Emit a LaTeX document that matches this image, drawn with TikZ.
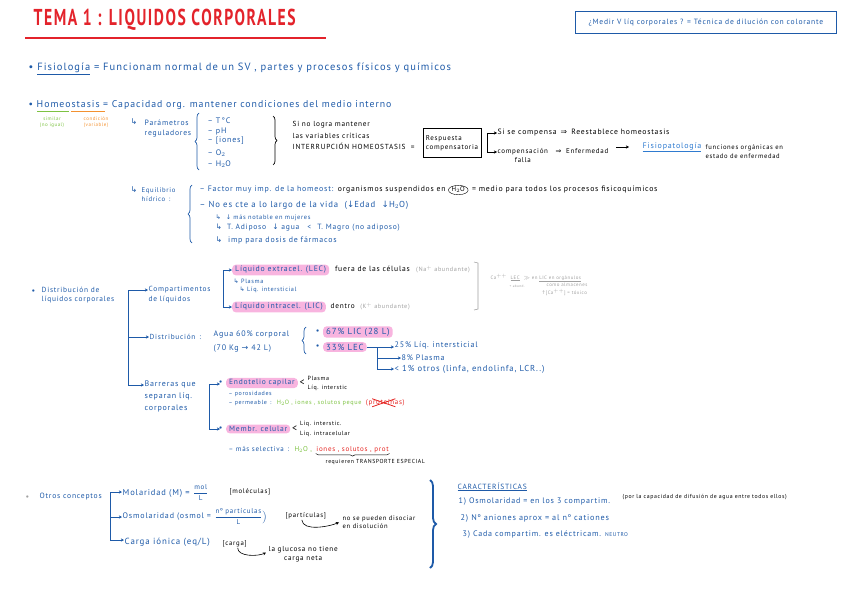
\documentclass[tikz,border=0pt]{standalone}
\usepackage{amsmath}
\usepackage{fontspec}
\setmainfont{PT Sans}[LetterSpace=10]
\newfontfamily\symf{DejaVu Sans}
\usetikzlibrary{arrows.meta, positioning, decorations.pathreplacing, shapes.geometric}
\definecolor{ink}{HTML}{1E5AA8}
\definecolor{inklight}{HTML}{2F7BD0}
\definecolor{titlered}{HTML}{E3232B}
\definecolor{redink}{HTML}{E52421}
\definecolor{pinkhl}{HTML}{F8B4DF}
\definecolor{grn}{HTML}{7DC242}
\definecolor{orng}{HTML}{F39130}
\definecolor{gry}{HTML}{A0A0A0}

\begin{document}
\begin{tikzpicture}[
x=1pt, y=-1pt,
txt/.style={anchor=west, inner sep=0.5pt, text=ink},
blk/.style={txt, text=black},
gtxt/.style={txt, text=gry},
fs/.style 2 args={font=\fontsize{#1}{#2}\selectfont},
hl/.style={fill=pinkhl, rounded corners=3.5pt, inner xsep=3pt, inner ysep=1.6pt},
arr/.style={-{Stealth[length=3.2pt, width=3.2pt]}, ink, line width=0.8pt},
arrk/.style={arr, black, line width=0.6pt},
line/.style={ink, line width=0.8pt},
lbrace/.style={decorate, decoration={brace, amplitude=4pt}, line width=0.7pt}
]
\useasboundingbox (0,0) rectangle (848,599);

% titulo
\node[txt, text=titlered, font=\fontsize{23}{23}\bfseries\selectfont] (title) at (33,20) {\scalebox{0.68}[1]{TEMA 1 : LIQUIDOS CORPORALES}};
\coordinate (ulA) at (25,38);
\coordinate (ulB) at (326,38);
\draw[titlered, line width=2.6pt] (ulA) -- (ulB);

\node[draw=ink, line width=0.8pt, text=ink, fs={7.6}{9}, minimum width=261pt, minimum height=22pt, anchor=north west] (medir) at (575,11) {¿Medir V líq corporales ? = Técnica de dilución con colorante};

% fisiologia / homeostasis
\node[txt, fs={10.5}{12}] (fisio) at (28,69) {• \underline{Fisiología} = Funcionam normal de un SV , partes y procesos físicos y químicos};
\node[txt, fs={9.8}{12}] (homeo) at (28,105) {• Homeostasis = Capacidad org. mantener condiciones del medio interno};
\draw[grn, line width=0.9pt] (37,111) -- (69,111);
\draw[orng, line width=0.9pt] (71,111) -- (105,111);
\node[txt, text=grn, fs={5}{6}, align=center, anchor=center] (similar) at (52,122) {similar\\(no igual)};
\node[txt, text=orng, fs={5}{6}, align=center, anchor=center] (condic) at (96,122) {condición\\(variable)};

\node[txt, fs={8}{10}] (hk1) at (130,122) {\symf ↳};
\node[txt, fs={7.7}{10}, align=left, anchor=north west] (param) at (144,119) {Parámetros\\reguladores};
\draw[ink, lbrace] (199,170) -- (199,113);
\foreach \t/\yy [count=\i] in {T\,°C/121, pH/131, {[}iones{]}/141, O$_2$/153, H$_2$O/164}
  \node[txt, fs={8}{10}] (reg\i) at (207,\yy) {– \t};
\draw[black, lbrace] (273,116) -- (273,165);
\node[blk, fs={7.3}{11.5}, align=left, anchor=north west] (nologra) at (292,121) {Si no logra mantener\\las variables críticas\\INTERRUPCIÓN HOMEOSTASIS \ =};
\node[draw=black, text=black, fs={7}{9}, align=left, minimum width=58pt, minimum height=29pt, inner sep=2pt] (resp) at (452,143) {Respuesta\\compensatoria};

\coordinate (rk) at (487,143);
\node[blk, fs={7.7}{9}] (sicomp) at (497,133) {Si se compensa \,{\symf ⇒}\, Reestablece homeostasis};
\node[blk, fs={7}{9}] (compen) at (497,152) {compensación};
\node[blk, fs={7}{9}, below=0.5pt of compen, anchor=north] (falla) {falla};
\draw[arrk] (rk) |- (sicomp.west);
\draw[arrk] (rk) |- (compen.west);
\node[blk, fs={7}{9}] (enferm) at (555,151) {{\symf ⇒}\; Enfermedad};
\node[txt, fs={8}{10}, text=inklight] (fisiop) at (642,147) {\underline{Fisiopatología}};
\draw[arrk, shorten <=7pt, shorten >=13pt] (enferm.east |- fisiop.west) -- (fisiop.west);
\node[blk, fs={6.6}{9}, align=left, anchor=north west] (funcorg) at (705,144) {funciones orgánicas en\\estado de enfermedad};

% equilibrio hidrico
\node[txt, fs={8}{10}] (hk2) at (130,190) {\symf ↳};
\node[txt, fs={6.7}{9}, align=left, anchor=north west] (equil) at (141,187) {Equilibrio\\hídrico \,:};
\draw[ink, lbrace] (192,243) -- (192,185);
\node[txt, fs={7.9}{9}] (factor) at (199,190) {– Factor muy imp. de la homeost:};
\node[blk, fs={7.7}{9}, base right=3pt of factor] (organ) {organismos suspendidos en};
\node[blk, fs={6.8}{8}, draw, ellipse, inner sep=0.4pt, base right=2pt of organ] (h2oc) {H$_2$O};
\node[blk, fs={7.8}{9}, base right=3pt of h2oc] (medio) {= medio para todos los procesos fisicoquímicos};
\node[txt, fs={8.7}{9}] (nocte) at (199,205) {– No es cte a lo largo de la vida \ ({\symf ↓}Edad \ {\symf ↓}H$_2$O)};
\node[txt, fs={6.4}{9}] (notable) at (215,218) {{\symf ↳} \ {\symf ↓} más notable en mujeres};
\node[txt, fs={7.6}{9}] (adip) at (215,228) {{\symf ↳}\hspace{5pt}T. Adiposo\hspace{6pt}{\symf ↓} agua\hspace{8pt}<\hspace{6pt}T. Magro\hspace{3pt}(no adiposo)};
\node[txt, fs={7.9}{9}] (dosis) at (215,240) {{\symf ↳} \ imp para dosis de fármacos};

% distribucion de liquidos
\node[txt, fs={8}{10}] (bul3) at (31,292) {•};
\node[txt, fs={7.4}{9.5}, align=left, anchor=north west] (distliq) at (41,286) {Distribución de\\líquidos corporales};
\coordinate (tr) at (128,290);
\coordinate (tb) at (128,385);
\node[txt, fs={7.4}{10}, align=left, anchor=north west] (compart) at (148,286) {Compartimentos\\de líquidos};
\node[txt, fs={7.3}{9}] (distrib) at (149,337) {Distribución \,:};
\node[txt, fs={8}{12}, align=left, anchor=north west] (barreras) at (144,380) {Barreras que\\separan líq.\\corporales};
\draw[line] (tr) -- (tb);
\draw[arr] (tr) -- (tr -| compart.west);
\draw[arr] (tr |- distrib.west) -- (distrib.west);
\draw[arr] (tb) -- (tb -| barreras.west);

\coordinate (cb) at (223,290);
\node[txt, fs={7.8}{9}, hl] (lec) at (232,270) {Líquido extracel. (LEC)};
\node[txt, fs={7.8}{9}, hl] (lic) at (232,307) {Líquido intracel. (LIC)};
\draw[arr] (cb) |- (lec.west);
\draw[arr] (cb) |- (lic.west);
\node[blk, fs={7.6}{9}, base right=5pt of lec] (fuera) {fuera de las células};
\node[gtxt, fs={6.2}{8}, base right=5pt of fuera] (na) {(Na$^+$ abundante)};
\node[txt, fs={6.2}{8}] (plasma) at (233,281) {{\symf ↳} Plasma};
\node[txt, fs={6.2}{8}] (intst) at (239,290) {{\symf ↳} Líq. intersticial};
\node[blk, fs={7.3}{9}, base right=4pt of lic] (dentro) {dentro};
\node[gtxt, fs={6.2}{8}, base right=4pt of dentro] (kab) {(K$^+$ abundante)};
\draw[gry, line width=0.6pt] (474,262) -- (478,263) -- (478,309) -- (474,310);
\node[gtxt, fs={4.9}{5}] (ca) at (490,278) {Ca$^{++}$ \ \underline{LEC} \ $\gg$ en \underline{LIC en orgánulos}};
\node[gtxt, fs={3.5}{4}] (abund) at (509,286) {+ abund.};
\node[gtxt, fs={4.9}{5}] (almac) at (546,285) {como almacenes};
\node[gtxt, fs={4.9}{5}] (toxic) at (541,292) {{\symf ↑}[Ca$^{++}$] = tóxico};

\node[txt, fs={8}{14}, align=left, anchor=north west] (agua) at (213,330) {Agua 60\% corporal\\(70 Kg {\symf →} 42 L)};
\draw[ink, lbrace] (306,354) -- (306,327);
\node[txt, fs={8.8}{10}, hl, label={[text=ink, fs={8}{10}]left:•}] (lic67) at (323,332) {67\% LIC (28 L)};
\node[txt, fs={8.8}{10}, hl, label={[text=ink, fs={8}{10}]left:•}] (lec33) at (323,347) {33\% LEC};
\coordinate (lb) at (377,347);
\node[txt, fs={8}{10}] (p25) at (394,345) {25\% Líq. intersticial};
\node[txt, fs={8}{10}] (p8) at (401,358) {8\% Plasma};
\node[txt, fs={8.6}{10}] (p1) at (394,369) {< 1\% otros (linfa, endolinfa, LCR..)};
\draw[line] (lec33.east) -- (lb);
\draw[arr] (lb) -- (lb -| p25.west);
\draw[arr] (lb) |- (p8.west);
\draw[arr] (lb) |- (p1.west);

% barreras
\coordinate (bb) at (209,384);
\coordinate (bb2) at (209,429);
\node[txt, fs={7.5}{9}, hl, label={[text=ink, fs={8}{10}]left:•}] (endot) at (226,383) {Endotelio capilar};
\node[txt, fs={7.6}{9}, hl, label={[text=ink, fs={8}{10}]left:•}] (membr) at (226,429) {Membr. celular};
\draw[line] (bb) -- (bb2);
\draw[arr, shorten >=6pt] (bb) -- (bb -| endot.west);
\draw[arr, shorten >=6pt] (bb2) -- (bb2 -| membr.west);
\node[blk, fs={10}{12}, right=1pt of endot] (lt1) {<};
\node[blk, fs={6}{9}, align=left, right=1.5pt of lt1] (plas2) {Plasma\\Líq. interstic};
\node[txt, fs={6}{8}] (poros) at (228,394) {– porosidades};
\node[txt, fs={6}{8}] (perm) at (228,403) {– permeable \,:};
\node[txt, fs={6.2}{8}, text=grn, base right=4pt of perm] (permg) {H$_2$O , iones , solutos peque};
\node[txt, fs={7}{8}, text=redink, base right=3pt of permg] (prot) {(proteínas)};
\draw[redink, line width=0.8pt] ([xshift=7pt]prot.south west) -- ([xshift=-10pt]prot.north east);
\draw[redink, line width=0.8pt] ([xshift=7pt]prot.north west) -- ([xshift=-10pt]prot.south east);
\node[blk, fs={10}{12}, right=1pt of membr] (lt2) {<};
\node[blk, fs={6}{10.5}, align=left, right=1.5pt of lt2] (liqs) {Líq. interstic.\\Líq. intracelular};
\node[txt, fs={7}{8}] (selec) at (228,449) {– más selectiva \,:};
\node[txt, fs={7}{8}, text=grn, base right=4pt of selec] (selg) {H$_2$O ,};
\node[txt, fs={7}{8}, text=redink, base right=3pt of selg] (selr) {iones , solutos , prot};
\draw[black, decorate, decoration={brace, amplitude=2.5pt}, line width=0.5pt] (selr.south east) -- (selr.south west);
\node[blk, fs={5.8}{7}, anchor=north west] (transp) at (325,459) {requieren TRANSPORTE ESPECIAL};

% otros conceptos
\node[txt, fs={8}{10}, text=gry] (bul4) at (25,498) {•};
\node[txt, fs={7.6}{10}] (otros) at (39,497) {Otros conceptos};
\coordinate (ot) at (110,492);
\coordinate (ob) at (110,540);
\node[txt, fs={8.5}{10}] (molar) at (122,493) {Molaridad (M) =};
\node[txt, fs={7}{9}, base right=2pt of molar] (molfrac) {$\dfrac{\text{mol}}{\text{L}}$};
\node[txt, fs={8}{10}] (osmo) at (122,517) {Osmolaridad (osmol =};
\node[txt, fs={7}{9}, base right=2pt of osmo] (osmofrac) {$\dfrac{\text{nº partículas}}{\text{L}}\Big)$};
\node[txt, fs={8.9}{10}] (carga) at (124,542) {Carga iónica (eq/L)};
\draw[line] (ot) -- (ob);
\draw[arr] (ot) -- (ot -| molar.west);
\draw[arr] (ot |- osmo.west) -- (osmo.west);
\draw[arr] (ob) -- (ob -| carga.west);
\node[blk, fs={6.8}{9}] (molec) at (229,492) {[moléculas]};
\node[blk, fs={6.8}{9}] (partic) at (285,516) {[partículas]};
\node[blk, fs={6.6}{8.5}, align=left, anchor=north west] (nodis) at (342,515) {no se pueden disociar\\en disolución};
\draw[arrk] ([xshift=-4pt]partic.south) .. controls ([xshift=-3pt, yshift=-12pt]partic.south) and ([xshift=-12pt, yshift=-4pt]nodis.west) .. ([xshift=-3pt]nodis.west);
\node[blk, fs={6.8}{9}] (cargab) at (222,544) {[carga]};
\node[blk, fs={7.2}{9}, align=center, anchor=north west] (glucosa) at (268,546) {la glucosa no tiene\\carga neta};
\draw[arrk] ([xshift=3pt]cargab.south) .. controls ([xshift=3pt, yshift=-9pt]cargab.south) and ([xshift=-10pt, yshift=-2pt]glucosa.west) .. ([xshift=-2pt, yshift=2pt]glucosa.west);
\draw[ink, line width=1.8pt, decorate, decoration={brace, amplitude=6pt}] (430,480) -- (430,568);

% caracteristicas
\node[txt, fs={7.5}{9}] (caract) at (457,487) {\underline{CARACTERÍSTICAS}};
\node[txt, fs={8}{10}] (c1) at (458,502) {1) Osmolaridad = en los 3 compartim.};
\node[blk, fs={5.8}{7}] (c1b) at (622,497) {(por la capacidad de difusión de agua entre todos ellos)};
\node[txt, fs={8.2}{10}] (c2) at (460,518) {2) Nº aniones aprox = al nº cationes};
\node[txt, fs={8}{10}] (c3) at (462,534) {3) Cada compartim. es eléctricam. {\fontsize{5.5}{6}\selectfont NEUTRO}};

\end{tikzpicture}
\end{document}
